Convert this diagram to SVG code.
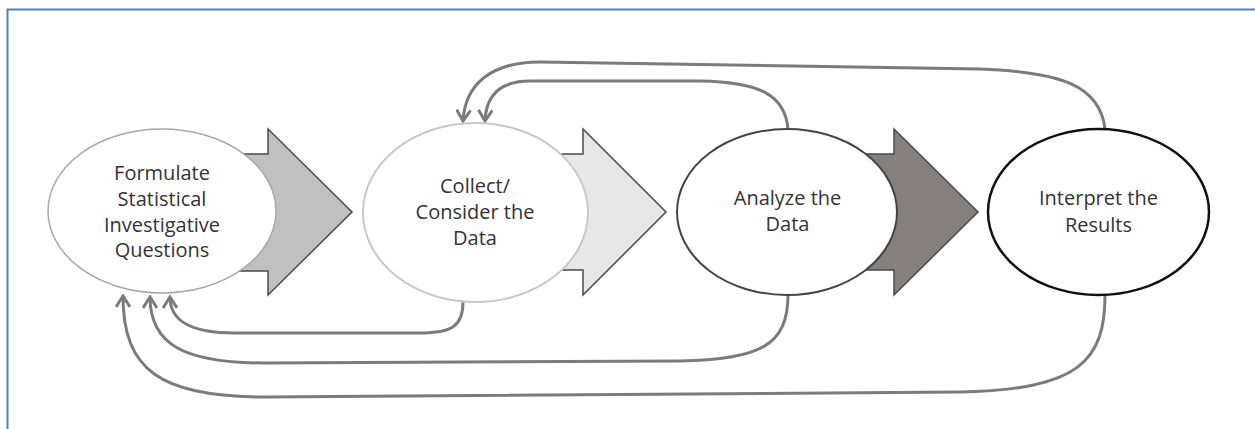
<svg xmlns="http://www.w3.org/2000/svg" width="1255" height="429" viewBox="0 0 1255 429">
<defs>
<style>
.lbl{font-family:"Open Sans","Liberation Sans",sans-serif;font-size:20px;fill:#333;text-anchor:middle}
.conn{fill:none;stroke:#7b7b7b;stroke-width:3;marker-end:url(#open)}
.blk{stroke:#4a4a4a;stroke-width:1.5;stroke-linejoin:miter}
</style>
<marker id="open" markerUnits="userSpaceOnUse" viewBox="0 0 14 16" refX="12" refY="8" markerWidth="14" markerHeight="16" orient="auto">
<path d="M1,1 L12,8 L1,15" fill="none" stroke="#7b7b7b" stroke-width="3" stroke-linejoin="miter"/>
</marker>
</defs>
<rect width="1255" height="429" fill="#fff"/>
<rect x="7.5" y="9.5" width="1260" height="440" fill="none" stroke="#4f81bd" stroke-width="2"/>

<g id="block-arrows">
<polygon id="arrow1" class="blk" fill="#c0c0c0" points="200,154 268,154 268,129 352,212 268,295 268,271 200,271"/>
<polygon id="arrow2" class="blk" fill="#e7e7e7" points="500,154 583,154 583,129 666,212 583,295 583,270 500,270"/>
<polygon id="arrow3" class="blk" fill="#857f80" points="820,154 894,154 894,129 978,212 894,295 894,270 820,270"/>
</g>

<g id="connectors">
<path class="conn" d="M463,302 C463,326 452,333 420,333 L235,333 C192,333 170,322 170,297"/>
<path class="conn" d="M788,295 C788,345 760,360 680,361 L265,363 C185,363 150,345 150,297"/>
<path class="conn" d="M1105,295 C1105,360 1080,390 960,392 L265,397 C160,397 123,370 123,296"/>
<path class="conn" d="M788,129 C785,95 760,82 700,81 L530,81 C500,81 486,95 485,121"/>
<path class="conn" d="M1105,129 C1100,85 1060,72 980,69 L540,62 C490,62 465,85 463,121"/>
</g>

<g id="node-formulate">
<ellipse cx="162" cy="211" rx="114" ry="82" fill="#fff" stroke="#a8a8a8" stroke-width="1.5"/>
<text class="lbl" x="162" y="180">Formulate</text>
<text class="lbl" x="162" y="206">Statistical</text>
<text class="lbl" x="162" y="232">Investigative</text>
<text class="lbl" x="162" y="257">Questions</text>
</g>

<g id="node-collect">
<ellipse cx="475.5" cy="212.5" rx="112.5" ry="89.5" fill="#fff" stroke="#c8c8c8" stroke-width="2"/>
<text class="lbl" x="475" y="193">Collect/</text>
<text class="lbl" x="475" y="219">Consider the</text>
<text class="lbl" x="475" y="245">Data</text>
</g>

<g id="node-analyze">
<ellipse cx="787" cy="212" rx="110" ry="83" fill="#fff" stroke="#444" stroke-width="2"/>
<text class="lbl" x="787.5" y="205">Analyze the</text>
<text class="lbl" x="787.5" y="231">Data</text>
</g>

<g id="node-interpret">
<ellipse cx="1098.5" cy="212" rx="110.5" ry="83" fill="#fff" stroke="#111" stroke-width="2.5"/>
<text class="lbl" x="1098.5" y="205">Interpret the</text>
<text class="lbl" x="1098.5" y="232">Results</text>
</g>
</svg>
